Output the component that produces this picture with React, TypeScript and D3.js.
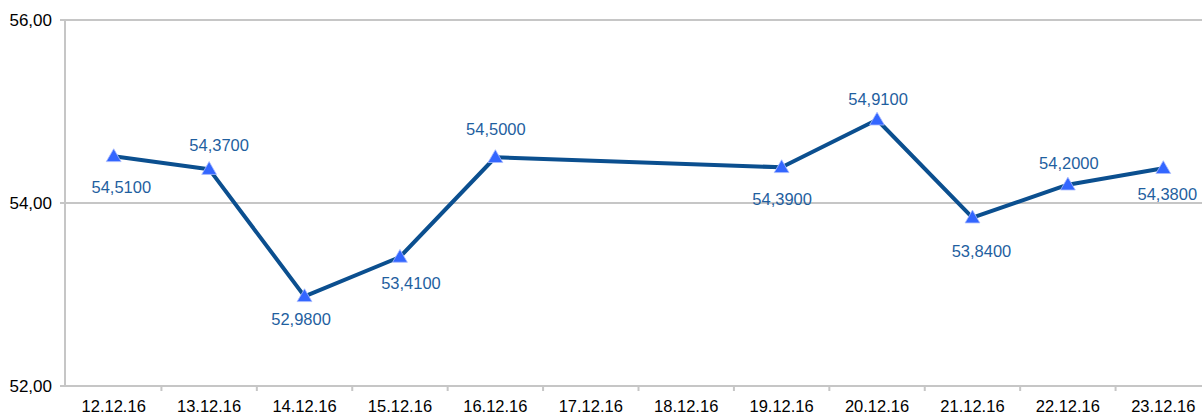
import React from "react";
import * as d3 from "d3";

const categories = ["12.12.16","13.12.16","14.12.16","15.12.16","16.12.16","17.12.16","18.12.16","19.12.16","20.12.16","21.12.16","22.12.16","23.12.16"];
const values: (number | null)[] = [54.51, 54.37, 52.98, 53.41, 54.5, null, null, 54.39, 54.91, 53.84, 54.2, 54.38];
const yTicks = [52, 54, 56];
// label nudges (dx, dy) relative to each point
const labelDx = [7.6, 10, -3.5, 11, 0.5, 0, 0, 0.5, 1, 9, 1, 4];
const labelDy = [31.3, -23.6, 22.6, 26, -27.7, 0, 0, 31.7, -20.6, 33.3, -21.7, 25.8];

const W = 1202, H = 414;
const fmtLabel = (v: number) => v.toFixed(4).replace(".", ",");
const fmtTick = (v: number) => v.toFixed(2).replace(".", ",");

export default function App() {
  const x = d3.scaleBand<string>().domain(categories).range([66, 1211]);
  const y = d3.scaleLinear().domain([52, 56]).range([386, 20]);
  const pts = categories
    .map((c, i) => ({ c, v: values[i], i }))
    .filter((d) => d.v !== null) as { c: string; v: number; i: number }[];
  const cx = (c: string) => (x(c) as number) + x.bandwidth() / 2;
  const line = d3.line<{ c: string; v: number }>().x((d) => cx(d.c)).y((d) => y(d.v));
  const tri = d3.symbol().type(d3.symbolTriangle).size(95)();
  const font = "Liberation Sans, Arial, sans-serif";
  return (
    <svg width={W} height={H} style={{ position: "absolute", left: 0, top: 0, background: "#fff" }}>
      {yTicks.map((t) => (
        <g key={t}>
          <line x1={60} x2={W} y1={y(t)} y2={y(t)} stroke="#c6c6c6" strokeWidth={2} />
          <text x={52} y={y(t)} dy="0.35em" textAnchor="end" fontFamily={font} fontSize={17} fill="#000">
            {fmtTick(t)}
          </text>
        </g>
      ))}
      <line x1={65} x2={65} y1={y(56)} y2={y(52)} stroke="#c6c6c6" strokeWidth={2} />
      {categories.map((c, i) => (
        <g key={c}>
          {i > 0 && (
            <line x1={x(c) as number} x2={x(c) as number} y1={y(52)} y2={y(52) + 5} stroke="#c6c6c6" strokeWidth={2} />
          )}
          <text x={cx(c)} y={412} textAnchor="middle" fontFamily={font} fontSize={16.5} fill="#000">
            {c}
          </text>
        </g>
      ))}
      <path d={line(pts) || ""} fill="none" stroke="#0b4f8f" strokeWidth={4} strokeLinejoin="round" />
      {pts.map((d) => (
        <path key={d.c} d={tri || ""} transform={`translate(${cx(d.c)},${y(d.v) + 1})`} fill="#3366ff" stroke="#aabbff" strokeWidth={0.8} />
      ))}
      {pts.map((d) => (
        <text key={"l" + d.c} x={cx(d.c) + labelDx[d.i]} y={y(d.v) + labelDy[d.i]} dy="0.35em" textAnchor="middle" fontFamily={font} fontSize={16.5} fill="#1f5f9f">
          {fmtLabel(d.v)}
        </text>
      ))}
    </svg>
  );
}
